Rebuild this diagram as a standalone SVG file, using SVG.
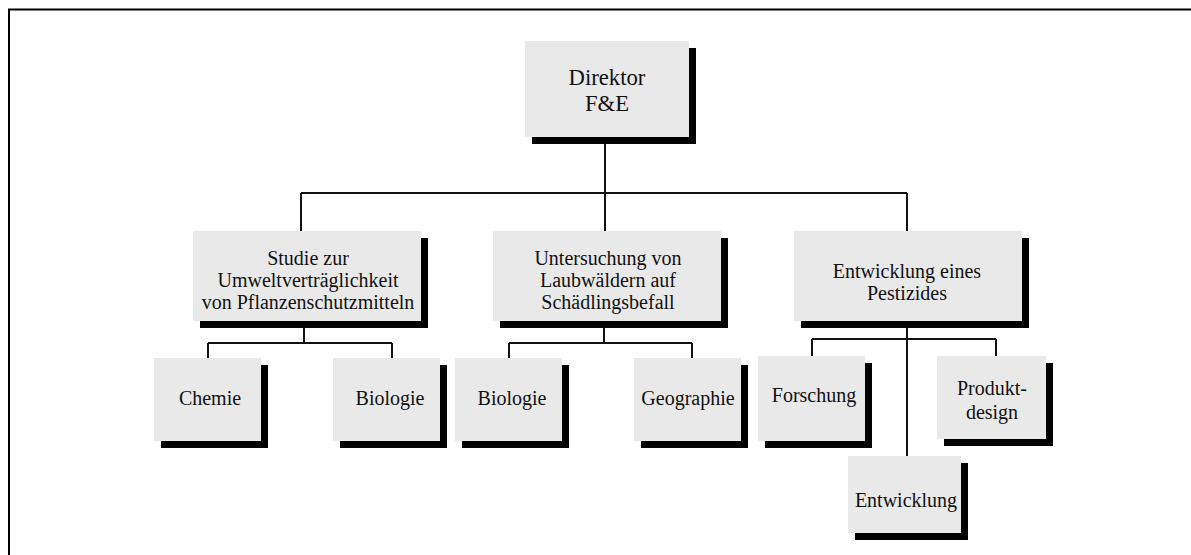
<svg xmlns="http://www.w3.org/2000/svg" width="1191" height="555" viewBox="0 0 1191 555">
  <style>
    .frame { fill: none; stroke: #000; stroke-width: 2; }
    .conn { fill: none; stroke: #111; stroke-width: 2; }
    .shadow { fill: #000; }
    .box { fill: #e9e9e9; }
    text { font-family: "Liberation Serif", "Times New Roman", serif; font-size: 20px; fill: #111; text-anchor: middle; }
    .big { font-size: 22.7px; }
  </style>
  <rect width="1191" height="555" fill="#fff"/>
  <!-- open frame: left edge and top edge -->
  <path class="frame" d="M9,555 V9.5 H1191"/>

  <g id="connectors">
    <!-- Direktor to the three projects -->
    <path class="conn" d="M605,137 V193 M301,193 H907 M301,193 V231 M605,193 V231 M907,193 V231"/>
    <!-- Studie to Chemie / Biologie -->
    <path class="conn" d="M304,321 V343 M208,343 H392 M208,343 V358 M392,343 V358"/>
    <!-- Untersuchung to Biologie / Geographie -->
    <path class="conn" d="M604,321 V343 M509,343 H692 M509,343 V358 M692,343 V358"/>
    <!-- Pestizid to Forschung / Produktdesign / Entwicklung -->
    <path class="conn" d="M907,321 V456 M812,339 H996 M812,339 V356 M996,339 V356"/>
  </g>

  <g id="direktor">
    <rect class="shadow" x="532" y="48" width="164" height="96"/>
    <rect class="box" x="525" y="41" width="164" height="96"/>
    <text class="big" x="607" y="85">Direktor</text>
    <text class="big" x="607" y="111">F&amp;E</text>
  </g>

  <g id="studie">
    <rect class="shadow" x="200" y="238" width="228" height="90"/>
    <rect class="box" x="193" y="231" width="228" height="90"/>
    <text x="308" y="265">Studie zur</text>
    <text x="308" y="287">Umweltverträglichkeit</text>
    <text x="308" y="309">von Pflanzenschutzmitteln</text>
  </g>

  <g id="untersuchung">
    <rect class="shadow" x="500" y="238" width="228" height="90"/>
    <rect class="box" x="493" y="231" width="228" height="90"/>
    <text x="608" y="265">Untersuchung von</text>
    <text x="608" y="287">Laubwäldern auf</text>
    <text x="608" y="309">Schädlingsbefall</text>
  </g>

  <g id="pestizid">
    <rect class="shadow" x="801" y="238" width="228" height="90"/>
    <rect class="box" x="794" y="231" width="228" height="90"/>
    <text x="907" y="278">Entwicklung eines</text>
    <text x="907" y="300">Pestizides</text>
  </g>

  <g id="chemie">
    <rect class="shadow" x="161" y="365" width="107" height="83"/>
    <rect class="box" x="154" y="358" width="107" height="83"/>
    <text x="210" y="405">Chemie</text>
  </g>

  <g id="biologie-1">
    <rect class="shadow" x="340" y="365" width="107" height="83"/>
    <rect class="box" x="333" y="358" width="107" height="83"/>
    <text x="390" y="405">Biologie</text>
  </g>

  <g id="biologie-2">
    <rect class="shadow" x="462" y="365" width="107" height="83"/>
    <rect class="box" x="455" y="358" width="107" height="83"/>
    <text x="512" y="405">Biologie</text>
  </g>

  <g id="geographie">
    <rect class="shadow" x="641" y="365" width="107" height="83"/>
    <rect class="box" x="634" y="358" width="107" height="83"/>
    <text x="688" y="405">Geographie</text>
  </g>

  <g id="forschung">
    <rect class="shadow" x="765" y="363" width="107" height="85"/>
    <rect class="box" x="758" y="356" width="107" height="85"/>
    <text x="814" y="402">Forschung</text>
  </g>

  <g id="produktdesign">
    <rect class="shadow" x="944" y="363" width="109" height="83"/>
    <rect class="box" x="937" y="356" width="109" height="83"/>
    <text x="992" y="395">Produkt-</text>
    <text x="992" y="419">design</text>
  </g>

  <g id="entwicklung">
    <rect class="shadow" x="855" y="463" width="113" height="77"/>
    <rect class="box" x="848" y="456" width="113" height="77"/>
    <text x="906" y="507">Entwicklung</text>
  </g>
</svg>
